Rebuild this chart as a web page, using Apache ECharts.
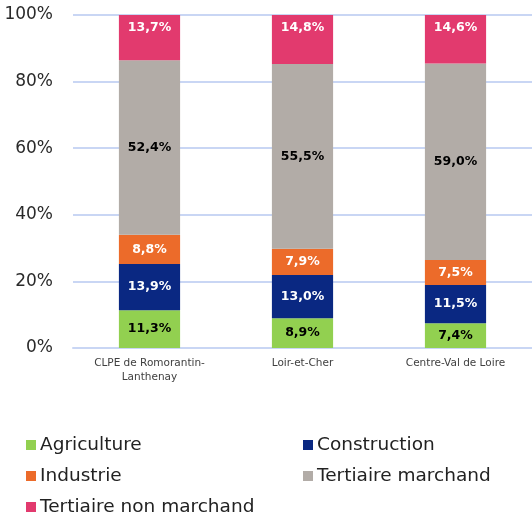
<!DOCTYPE html>
<html><head><meta charset="utf-8">
<script src="https://cdn.jsdelivr.net/npm/echarts@6/dist/echarts.min.js"></script>
<style>html,body{margin:0;padding:0;background:#fff}#c{width:532px;height:519px}</style>
</head><body><div id="c"></div>
<script>
const categories = ['CLPE de Romorantin-\nLanthenay', 'Loir-et-Cher', 'Centre-Val de Loire'];
const agriculture = [11.3, 8.9, 7.4];
const construction = [13.9, 13.0, 11.5];
const industrie = [8.8, 7.9, 7.5];
const tertiaireMarchand = [52.4, 55.5, 59.0];
const tertiaireNonMarchand = [13.7, 14.8, 14.6];
const yTicks = [0, 20, 40, 60, 80, 100];

const FONT = 'DejaVu Sans';
function fmt(v){ return v.toFixed(1).replace('.', ',') + '%'; }
function mk(name, data, color, labelColor, top){
  return {
    name, type:'bar', stack:'s', data, barWidth:'40%',
    itemStyle:{color},
    label:{show:true, position: top ? 'insideTop' : 'inside', distance: top ? 6 : 5,
      color:labelColor, fontFamily:FONT, fontWeight:'bold', fontSize:12.5,
      formatter:p=>fmt(p.value)},
    emphasis:{disabled:true}
  };
}
const legendText = {fontFamily:FONT, fontSize:18.5, color:'#222', lineHeight:20, padding:[0,0,0,-1]};
const chart = echarts.init(document.getElementById('c'), null, {renderer:'canvas'});
chart.setOption({
  animation:false,
  grid:{left:73, right:0, top:15, bottom:171, containLabel:false},
  xAxis:{type:'category', data:categories,
    axisLine:{show:true, lineStyle:{color:'#c9d6f4', width:2}},
    axisTick:{show:false},
    axisLabel:{color:'#404040', fontFamily:FONT, fontSize:10.5, lineHeight:14, margin:8, interval:0}},
  yAxis:{type:'value', min:yTicks[0], max:yTicks[yTicks.length-1], interval:20,
    axisLabel:{color:'#2a2a2a', fontFamily:FONT, fontSize:17, margin:20, formatter:v=>v+'%'},
    splitLine:{lineStyle:{color:'#c9d6f4', width:2}},
    axisLine:{show:false}, axisTick:{show:false}},
  legend:[
    {orient:'vertical', left:26, top:435, height:90, padding:0, itemWidth:10, itemHeight:10, itemGap:11, icon:'rect',
     textStyle:legendText, data:['Agriculture','Industrie','Tertiaire non marchand']},
    {orient:'vertical', left:303, top:435, height:90, padding:0, itemWidth:10, itemHeight:10, itemGap:11, icon:'rect',
     textStyle:legendText, data:['Construction','Tertiaire marchand']}
  ],
  series:[
    mk('Agriculture', agriculture, '#92d050', '#000'),
    mk('Construction', construction, '#0a2882', '#fff'),
    mk('Industrie', industrie, '#ec6b2a', '#fff'),
    mk('Tertiaire marchand', tertiaireMarchand, '#b2aca7', '#000'),
    mk('Tertiaire non marchand', tertiaireNonMarchand, '#e23a6e', '#fff', true)
  ]
});
</script></body></html>
